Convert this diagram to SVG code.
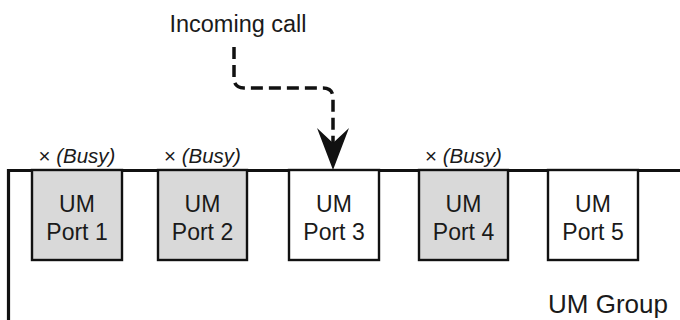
<svg xmlns="http://www.w3.org/2000/svg" width="680" height="320" viewBox="0 0 680 320">
<style>
text{font-family:"Liberation Sans",Arial,sans-serif;fill:#1a1a1a}
.port rect{stroke:#111;stroke-width:2.4}
.busy rect{fill:#d9d9d9}
.free rect{fill:#fff}
.lbl{font-size:23px;text-anchor:middle}
.tag{font-size:20.5px;text-anchor:middle}
.frame{fill:none;stroke:#111;stroke-width:3.2}
.conn{fill:none;stroke:#111;stroke-width:3.5;stroke-dasharray:12 6}
</style>
<defs>
<marker id="ah" markerUnits="userSpaceOnUse" markerWidth="44" markerHeight="32" refX="15" refY="16" orient="auto" viewBox="0 0 44 32">
<path d="M42,16 L0,0 L15,16 L0,32 Z" fill="#111"/>
</marker>
</defs>
<rect width="680" height="320" fill="#fff"/>
<g id="group">
<path class="frame" d="M8.5,320 V170.5 H680"/>
<text x="608" y="313" style="font-size:26px;text-anchor:middle">UM Group</text>
</g>
<g id="port1" class="port busy">
<rect x="32" y="170" width="90" height="90"/>
<text class="lbl" x="77" y="212">UM</text>
<text class="lbl" x="77" y="240">Port 1</text>
<text class="tag" x="77" y="163">× <tspan font-style="italic">(Busy)</tspan></text>
</g>
<g id="port2" class="port busy">
<rect x="158" y="170" width="89" height="90"/>
<text class="lbl" x="202.5" y="212">UM</text>
<text class="lbl" x="202.5" y="240">Port 2</text>
<text class="tag" x="202.5" y="163">× <tspan font-style="italic">(Busy)</tspan></text>
</g>
<g id="port3" class="port free">
<rect x="289" y="170" width="90" height="90"/>
<text class="lbl" x="334" y="212">UM</text>
<text class="lbl" x="334" y="240">Port 3</text>
</g>
<g id="port4" class="port busy">
<rect x="419" y="170" width="89" height="90"/>
<text class="lbl" x="463.5" y="212">UM</text>
<text class="lbl" x="463.5" y="240">Port 4</text>
<text class="tag" x="463.5" y="163">× <tspan font-style="italic">(Busy)</tspan></text>
</g>
<g id="port5" class="port free">
<rect x="548" y="170" width="90" height="90"/>
<text class="lbl" x="593" y="212">UM</text>
<text class="lbl" x="593" y="240">Port 5</text>
</g>
<g id="incoming">
<text x="238" y="32" style="font-size:23.5px;text-anchor:middle">Incoming call</text>
</g>
<g id="connectors">
<path class="conn" d="M234,47 V78 Q234,88 244,88 H323 Q333,88 333,98 V143" marker-end="url(#ah)"/>
</g>
</svg>
